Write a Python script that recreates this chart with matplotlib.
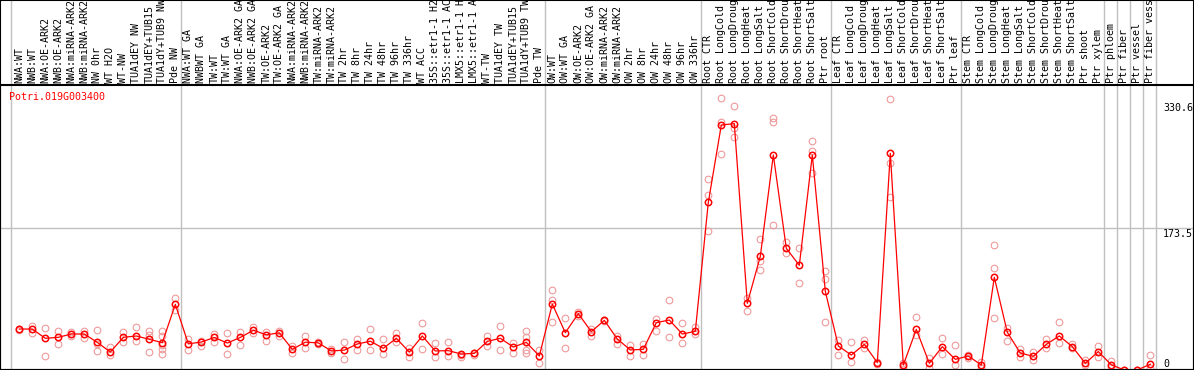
import matplotlib
matplotlib.use("Agg")
import matplotlib.pyplot as plt
import matplotlib.transforms as mtransforms
from matplotlib.patches import Rectangle
import numpy as np

gene = "Potri.019G003400"

labels = [
    "NWA:WT", "NWB:WT", "NWA:OE-ARK2", "NWB:OE-ARK2", "NWA:miRNA-ARK2", "NWB:miRNA-ARK2",
    "NW 0hr", "WT H2O", "WT-NW", "TUA1dEY NW", "TUA1dEY+TUB15", "TUA1dY+TUB9 NW", "Pde NW",
    "NWA:WT GA", "NWBWT GA", "TW:WT", "TW:WT GA", "NWA:OE-ARK2 GA", "NWB:OE-ARK2 GA",
    "TW:OE-ARK2", "TW:OE-ARK2 GA", "NWA:miRNA-ARK2", "NWB:miRNA-ARK2", "TW:miRNA-ARK2",
    "TW:miRNA-ARK2", "TW 2hr", "TW 8hr", "TW 24hr", "TW 48hr", "TW 96hr", "TW 336hr",
    "WT ACC", "35S::etr1-1 H2", "35S::etr1-1 AC", "LMX5::etr1-1 H", "LMX5::etr1-1 A",
    "WT-TW", "TUA1dEY TW", "TUA1dEY+TUB15", "TUA1dY+TUB9 TW", "Pde TW",
    "OW:WT", "OW:WT GA", "OW:OE-ARK2", "OW:OE-ARK2 GA", "OW:miRNA-ARK2", "OW:miRNA-ARK2",
    "OW 2hr", "OW 8hr", "OW 24hr", "OW 48hr", "OW 96hr", "OW 336hr",
    "Root CTR", "Root LongCold", "Root LongDroug", "Root LongHeat", "Root LongSalt",
    "Root ShortCold", "Root ShortDrou", "Root ShortHeat", "Root ShortSalt", "Ptr root",
    "Leaf CTR", "Leaf LongCold", "Leaf LongDroug", "Leaf LongHeat", "Leaf LongSalt",
    "Leaf ShortCold", "Leaf ShortDrou", "Leaf ShortHeat", "Leaf ShortSalt", "Ptr leaf",
    "Stem CTR", "Stem LongCold", "Stem LongDroug", "Stem LongHeat", "Stem LongSalt",
    "Stem ShortCold", "Stem ShortDrou", "Stem ShortHeat", "Stem ShortSalt", "Ptr shoot",
    "Ptr xylem", "Ptr phloem", "Ptr fiber", "Ptr vessel", "Ptr fiber vess",
]

# number of samples in each block (separated by grey lines)
group_sizes = [13, 28, 12, 10, 10, 11, 1, 1, 1, 1]

means = [
    51.8, 51.8, 40.6, 41.8, 45.8, 45.8, 35.7, 24.0, 41.8, 43.4, 39.4, 35.3, 81.6,
    33.9, 36.1, 41.6, 34.9, 41.6, 50.4, 44.8, 47.2, 27.3, 35.9, 35.1, 25.3, 26.3, 33.7,
    37.1, 28.5, 40.6, 24.0, 43.4, 25.3, 25.7, 21.6, 22.4, 36.9, 40.6, 30.1, 35.7, 19.2,
    82.0, 47.4, 70.4, 48.6, 62.3, 39.8, 26.5, 27.3, 59.5, 62.7, 45.8, 49.0,
    204.9, 298.4, 300.0, 82.9, 139.7, 262.1, 149.3, 128.8, 262.1, 97.4,
    31.3, 20.4, 33.3, 11.2, 264.1, 8.3, 51.4, 10.4, 30.5, 15.2,
    19.2, 8.3, 114.3, 47.8, 22.8, 18.8, 33.3, 43.4, 30.5, 10.4, 24.6,
    8.5, 2.3, 2.3, 9.3,
]

replicates = [
    [51.8, 51.0], [55.5, 46.6], [52.6, 18.8], [49.8, 33.3], [47.8, 43.4], [49.4, 40.6],
    [50.2, 33.7, 25.3], [30.5, 20.4], [48.2, 36.1], [54.7, 37.7], [49.0, 44.6, 23.6],
    [49.0, 43.8, 32.1, 27.3, 21.6], [88.9, 74.8],
    [39.8, 26.5], [37.3, 31.3], [45.8, 36.5], [46.6, 21.6], [48.6, 32.5], [53.9, 46.6],
    [48.6, 37.3], [49.8, 43.8], [31.7, 23.2], [43.4, 28.5], [36.1, 34.0], [27.7, 23.0],
    [36.1, 15.2], [40.2, 26.9], [51.8, 26.1], [39.4, 21.6], [47.4, 36.0], [28.9, 17.6],
    [59.1, 27.3], [34.5, 18.4], [36.1, 19.2], [20.4, 17.6], [23.2, 21.0], [43.4, 31.7],
    [55.5, 26.1], [34.5, 22.4], [49.4, 42.6, 26.5, 23.2], [26.5, 11.2],
    [98.9, 86.8, 60.7], [64.7, 28.4], [72.7, 68.0], [51.4, 43.8], [62.3, 61.5],
    [43.8, 33.7], [33.0, 19.2], [33.7, 20.8], [63.9, 49.0], [86.5, 41.8], [58.7, 34.5],
    [53.9, 45.8],
    [232.7, 213.8, 169.9], [330.6, 302.4, 262.9], [321.7, 294.3, 283.4], [88.9, 74.0],
    [160.6, 134.4, 122.7], [307.2, 301.6, 177.5], [157.4, 144.1], [149.7, 107.0],
    [279.0, 266.9, 240.7], [121.9, 112.3, 59.9],
    [38.6, 20.4], [36.1, 12.0], [38.6, 28.5], [12.4, 10.0], [329.4, 252.1, 211.8],
    [10.4, 6.3], [66.0, 44.6], [17.2, 4.3], [40.6, 21.2], [32.5, 8.3],
    [17.2, 21.0], [12.4, 5.0], [152.9, 125.1, 64.7], [52.6, 37.7], [27.7, 18.4],
    [24.5, 14.4], [39.8, 28.5], [60.7, 35.3], [33.3, 28.5], [14.4, 8.0], [31.7, 18.4],
    [12.8, 6.0], [2.0], [2.0], [20.4, 5.0],
]

ytick_vals = [330.6, 173.5, 0]

W, H = 1194, 370
mono = "DejaVu Sans Mono"
fs = 7.2

fig = plt.figure(figsize=(W / 100, H / 100), dpi=100)
top_px = 85
ax = fig.add_axes([0, 0, 1, (H - top_px) / H])
ax.set_xlim(-1.485, 90.36)
ax.set_ylim(2.3, 346.7)
ax.set_xticks([])
ax.set_yticks([])
for s in ax.spines.values():
    s.set_color("black")
    s.set_linewidth(1.5)

x = np.arange(len(means))

# grey block separators, running up through the label area
ext = H / (H - top_px)
sep = [-0.65] + list(np.cumsum(group_sizes) - 1 + 0.4)
for xs in sep:
    ax.axvline(xs, 0, ext, color="#c0c0c0", lw=1.0, clip_on=False, zorder=1)

# middle grid line
ax.axhline(ytick_vals[1], color="#c0c0c0", lw=1.0, zorder=1)

# replicate points
for i, reps in enumerate(replicates):
    ax.plot([i] * len(reps), reps, "o", ms=4.8, mfc="none", mec="#ee9a9a",
            mew=0.8, zorder=2)

# mean line
ax.plot(x, means, "-", color="red", lw=0.9, zorder=3)
ax.plot(x, means, "o", ms=4.6, mfc="none", mec="red", mew=1.1, zorder=4)

# sample labels above the plot
lab_tr = mtransforms.offset_copy(ax.get_xaxis_transform(), fig=fig, x=0, y=2, units="dots")
for i, lab in enumerate(labels):
    ax.text(i, 1.0, lab, rotation=90, ha="center", va="bottom", family=mono,
            fontsize=fs, transform=lab_tr, clip_on=False)

# gene name
ax.text(9 / W, 1 - 7 / (H - top_px), gene, color="red", family=mono, fontsize=fs,
        ha="left", va="top", transform=ax.transAxes)

# value labels on the right
tx = 1163 / W
for v, top in zip(ytick_vals, [103, 229, 359]):
    ax.text(tx, 1 - (top - top_px) / (H - top_px), str(v), family=mono,
            fontsize=fs, ha="left", va="top", transform=ax.transAxes)

# outer frame
fig.patches.append(Rectangle((0, 0), 1, 1, transform=fig.transFigure, fill=False,
                             ec="black", lw=1.5))

fig.savefig("out.png", dpi=100)
